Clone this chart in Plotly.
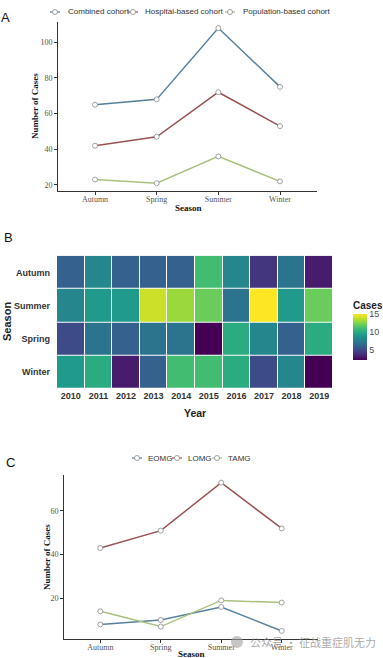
import plotly.graph_objects as go

W, H = 383, 658

# ---------------- data ----------------
seasons = ["Autumn", "Spring", "Summer", "Winter"]
combined = [65, 68, 108, 75]
hospital = [42, 47, 72, 53]
population = [23, 21, 36, 22]

years = ["2010", "2011", "2012", "2013", "2014", "2015", "2016", "2017", "2018", "2019"]
heat_seasons = ["Autumn", "Summer", "Spring", "Winter"]
heat_autumn = [6, 8, 6, 6, 6, 11, 8, 4, 7, 3]
heat_summer = [8, 9, 9, 14, 13, 12, 7, 15, 9, 12]
heat_spring = [5, 7, 6, 7, 7, 2, 10, 8, 6, 10]
heat_winter = [9, 10, 3, 6, 11, 11, 10, 5, 8, 2]

eomg = [8, 10, 16, 5]
lomg = [43, 51, 73, 52]
tamg = [14, 7, 19, 18]

legend_a = ["Combined cohort", "Hospital-based cohort", "Population-based cohort"]
legend_c = ["EOMG", "LOMG", "TAMG"]

# ---------------- helpers ----------------
def px(x):
    return x / W

def py(y):
    return 1 - y / H

SERIF = "Liberation Serif"
SANS = "Liberation Sans"
BLUE = "#56809e"
RED = "#9a5252"
GREEN = "#a9c17f"
COLORS = [BLUE, RED, GREEN]

fig = go.Figure()

def line_trace(x, y, name, color, xa, ya):
    return go.Scatter(
        x=x, y=y, name=name, mode="lines+markers",
        line=dict(color=color, width=1.5),
        marker=dict(symbol="circle", size=5, color="white",
                    line=dict(color="#8a8a8a", width=0.8)),
        xaxis=xa, yaxis=ya, showlegend=False,
    )

# Panel A
for vals, name, col in zip([combined, hospital, population], legend_a, COLORS):
    fig.add_trace(line_trace(seasons, vals, name, col, "x", "y"))

# Panel B
z = [heat_autumn, heat_summer, heat_spring, heat_winter]
fig.add_trace(go.Heatmap(
    x=years, y=heat_seasons, z=z, colorscale="Viridis", zmin=2, zmax=15,
    xgap=1, ygap=1, xaxis="x2", yaxis="y2", showlegend=False,
    colorbar=dict(
        x=px(353), xanchor="left", xpad=0, ypad=0,
        y=py(329), yanchor="middle",
        len=62 / H, lenmode="fraction", thickness=14, outlinewidth=0,
        tickvals=[5, 10, 15], ticks="", ticklabelposition="outside",
        tickfont=dict(family=SANS, size=9, color="#4d4d4d"),
        title=dict(text="<b>Cases</b>", side="top",
                   font=dict(family=SANS, size=10, color="#222")),
    ),
))

# Panel C
for vals, name, col in zip([eomg, lomg, tamg], legend_c, COLORS):
    fig.add_trace(line_trace(seasons, vals, name, col, "x3", "y3"))

axis_common = dict(
    showline=True, linecolor="#333", linewidth=1, ticks="outside",
    ticklen=3, tickcolor="#333", showgrid=False, zeroline=False,
    tickfont=dict(family=SERIF, size=8, color="#555555"),
)

annotations = []
shapes = []

def ann(text, x, y, size, family, color="#111", angle=0, xanchor="center", yanchor="middle"):
    annotations.append(dict(
        text=text, x=px(x), y=py(y), xref="paper", yref="paper",
        showarrow=False, font=dict(family=family, size=size, color=color),
        textangle=angle, xanchor=xanchor, yanchor=yanchor,
    ))

def legend_key(cx, cy, color):
    shapes.append(dict(type="line", xref="paper", yref="paper",
                       x0=px(cx - 5), x1=px(cx + 5), y0=py(cy), y1=py(cy),
                       line=dict(color=color, width=1.2)))
    shapes.append(dict(type="circle", xref="paper", yref="paper",
                       x0=px(cx - 2.5), x1=px(cx + 2.5), y0=py(cy + 2.5), y1=py(cy - 2.5),
                       fillcolor="white", line=dict(color="#8a8a8a", width=0.8)))

# custom legends
for name, col, kx, tx in zip(legend_a, COLORS, [55, 133, 230], [66, 143, 241]):
    legend_key(kx, 12, col)
    ann(name, tx, 12, 8, SANS, color="#333", xanchor="left")
for name, col, kx, tx in zip(legend_c, COLORS, [137, 177, 217], [146, 186, 226]):
    legend_key(kx, 458, col)
    ann(name, tx, 458, 8, SANS, color="#333", xanchor="left")

# panel letters
ann("A", 6, 17, 13, SANS)
ann("B", 8, 238, 13, SANS)
ann("C", 10, 462, 13, SANS)

# axis titles
ann("<b>Season</b>", 188, 208, 9, SERIF)
ann("<b>Number of Cases</b>", 35, 106, 9, SERIF, angle=-90)
ann("<b>Year</b>", 195, 413, 10.5, SANS, color="#222")
ann("<b>Season</b>", 7, 322, 11, SANS, color="#222", angle=-90)
ann("<b>Season</b>", 191, 654, 9, SERIF)
ann("<b>Number of Cases</b>", 47, 557, 9, SERIF, angle=-90)

# watermark
ann("公众号 · 征战重症肌无力", 248, 642, 11, "Noto Sans CJK SC",
    color="rgba(140,140,140,0.75)", xanchor="left")
shapes.append(dict(type="circle", xref="paper", yref="paper",
                   x0=px(231), x1=px(243), y0=py(648), y1=py(636),
                   fillcolor="rgba(160,160,160,0.6)", line=dict(width=0)))

fig.update_layout(
    width=W, height=H, margin=dict(l=0, r=0, t=0, b=0),
    paper_bgcolor="white", plot_bgcolor="white", showlegend=False,
    xaxis=dict(domain=[px(58), px(317)], range=[-0.6, 3.6], anchor="y",
               ticklabelstandoff=-3, **axis_common),
    yaxis=dict(domain=[py(191), py(22)], range=[16.6, 111.4], anchor="x",
               tickvals=[20, 40, 60, 80, 100], **axis_common),
    xaxis2=dict(domain=[px(57), px(333)], anchor="y2", showgrid=False,
                zeroline=False, ticks="", showline=False,
                tickfont=dict(family=SANS, size=9, color="#333", weight="bold")),
    yaxis2=dict(domain=[py(389), py(255.7)], anchor="x2", showgrid=False,
                zeroline=False, ticks="", showline=False,
                categoryorder="array", categoryarray=heat_seasons,
                autorange="reversed", ticklabelstandoff=6,
                tickfont=dict(family=SANS, size=9, color="#333", weight="bold")),
    xaxis3=dict(domain=[px(64), px(318)], range=[-0.6, 3.6], anchor="y3",
                ticklabelstandoff=-3, **axis_common),
    yaxis3=dict(domain=[py(639), py(475)], range=[1.3, 76.5], anchor="x3",
                tickvals=[20, 40, 60], **axis_common),
    annotations=annotations,
    shapes=shapes,
)

fig.write_html("out.html", config={"displayModeBar": False},
               post_script="document.body.style.margin='0px';document.body.style.overflow='hidden';")
